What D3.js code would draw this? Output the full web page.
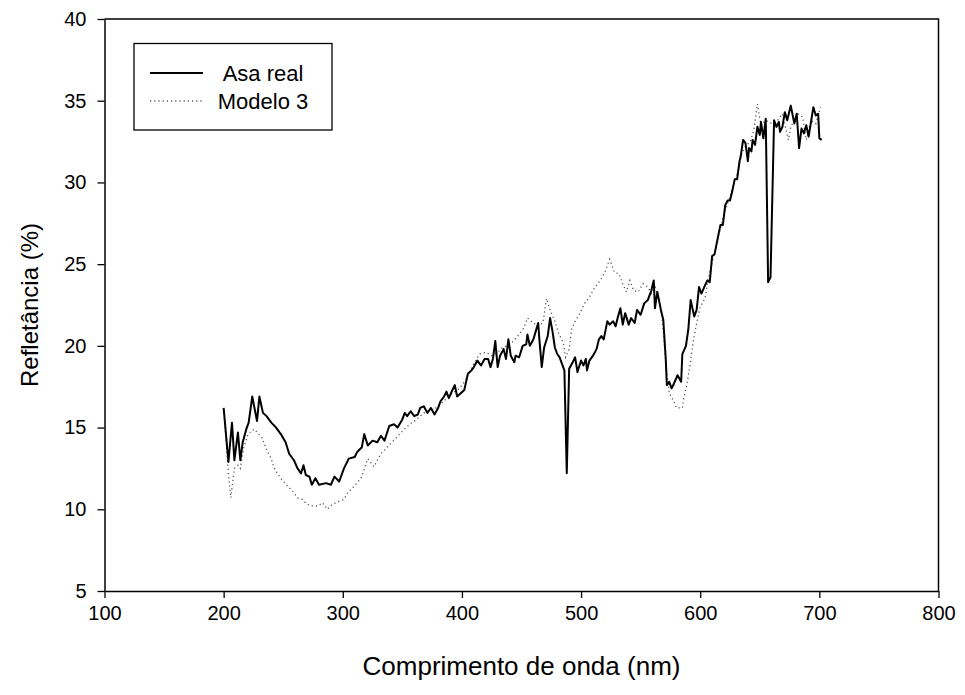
<!DOCTYPE html>
<html>
<head>
<meta charset="utf-8">
<script src="https://cdn.jsdelivr.net/npm/d3@7"></script>
<style>
  body { margin: 0; background: #fff; }
  svg { font-family: Arial, "Liberation Sans", sans-serif; }
</style>
</head>
<body>
<div id="chart"></div>
<script>
// tick values
const xTicks = [100, 200, 300, 400, 500, 600, 700, 800];
const yTicks = [5, 10, 15, 20, 25, 30, 35, 40];

// legend labels
const seriesNames = ["Asa real", "Modelo 3"];

// Asa real: [wavelength nm, reflectance %]
const asaReal = [
  [200,16.2],[204,12.9],[207,15.3],[209,13.0],[212,14.7],[214,13.0],[216,14.1],[219,14.9],[221,15.3],
  [224,16.9],[228,15.4],[230,16.9],[233,15.9],[236,15.7],[240,15.3],[244,15.0],[248,14.6],[252,14.1],
  [255,13.4],[259,13.0],[262,12.5],[265,12.2],[267,12.7],[269,12.1],[272,12.0],[274,11.5],[277,11.9],
  [280,11.5],[286,11.6],[290,11.5],[293,12.0],[297,11.7],[301,12.5],[305,13.1],[310,13.2],[312,13.5],
  [316,13.8],[318,14.6],[321,13.9],[325,14.2],[329,14.1],[332,14.5],[335,14.2],[339,15.1],[343,15.2],
  [346,15.0],[350,15.5],[352,15.9],[354,15.7],[357,16.0],[360,15.7],[363,15.8],[365,16.2],[368,16.3],
  [371,15.9],[374,16.2],[377,15.8],[380,16.2],[382,16.6],[385,16.9],[387,17.2],[389,16.8],[392,17.3],
  [394,17.6],[396,16.9],[399,17.1],[402,17.3],[405,18.3],[408,18.5],[410,18.7],[413,19.1],[416,18.8],
  [419,19.2],[422,19.2],[424,18.7],[426,19.2],[428,20.3],[430,18.7],[432,19.4],[435,19.8],[437,19.2],
  [439,20.4],[441,19.4],[444,19.0],[445,19.4],[448,19.3],[451,20.0],[454,20.1],[455,20.7],[457,20.0],
  [460,20.4],[462,20.9],[464,21.4],[465,20.4],[467,18.7],[469,19.9],[472,20.6],[474,21.7],[476,20.9],
  [478,19.9],[480,19.5],[482,19.3],[484,18.9],[486,18.5],[488,12.2],[490,18.6],[493,19.0],[495,19.3],
  [497,18.4],[500,19.1],[502,18.8],[504,19.2],[505,18.5],[507,19.1],[510,19.4],[513,19.8],[515,20.4],
  [517,20.6],[519,20.4],[522,21.5],[524,21.3],[527,21.5],[529,21.2],[531,21.8],[533,22.3],[535,21.3],
  [537,22.0],[540,21.3],[542,21.7],[545,21.4],[547,22.2],[550,21.9],[553,22.6],[556,22.8],[559,23.4],
  [561,24.0],[562,22.3],[564,23.3],[567,22.2],[569,21.6],[571,19.3],[572,17.6],[574,17.8],[576,17.4],
  [578,17.7],[581,18.2],[584,17.8],[585,19.5],[588,20.0],[590,21.0],[592,22.8],[595,21.8],[597,22.2],
  [599,23.6],[601,23.2],[604,23.7],[606,24.0],[608,23.9],[610,25.5],[612,25.6],[615,26.7],[617,27.4],
  [619,27.4],[621,28.6],[623,28.9],[625,28.9],[627,29.5],[629,30.2],[631,30.2],[633,31.3],[634,31.6],
  [636,32.6],[638,32.4],[640,31.3],[641,32.1],[643,31.9],[644,32.6],[646,32.3],[648,33.4],[650,32.9],
  [651,33.7],[653,32.7],[655,33.9],[657,23.9],[659,24.2],[662,33.8],[664,33.4],[666,33.7],[667,33.1],
  [669,33.4],[671,34.3],[673,33.8],[676,34.7],[679,33.6],[681,34.2],[683,32.1],[685,33.3],[687,33.0],
  [689,33.5],[691,32.8],[693,33.7],[695,34.6],[697,34.1],[699,34.2],[700,32.7],[702,32.6]
];

// Modelo 3: [wavelength nm, reflectance %]
const modelo3 = [
  [201,15.3],[204,12.2],[206,10.7],[209,12.5],[212,12.7],[214,12.5],[217,13.8],[220,14.5],[223,14.8],
  [226,14.9],[228,14.7],[232,14.4],[237,13.5],[240,13.1],[242,12.6],[245,12.2],[249,11.8],[254,11.4],
  [258,11.1],[262,10.7],[266,10.6],[270,10.3],[275,10.2],[279,10.2],[283,10.4],[287,10.0],[291,10.3],
  [297,10.5],[301,10.6],[304,11.0],[308,11.3],[312,11.6],[316,12.0],[319,12.7],[321,13.1],[326,12.6],
  [332,13.4],[340,14.0],[349,14.7],[356,15.2],[362,15.5],[368,15.9],[374,16.0],[380,16.3],[386,16.7],
  [392,17.1],[398,17.4],[404,18.0],[410,18.9],[415,19.5],[420,19.6],[425,19.4],[430,19.6],[434,19.9],
  [438,20.0],[442,20.2],[448,20.7],[452,21.1],[455,21.7],[460,21.4],[464,21.2],[468,21.4],[471,22.9],
  [474,22.2],[478,21.5],[481,20.8],[485,20.2],[487,19.3],[490,19.8],[492,21.0],[495,21.5],[499,22.0],
  [503,22.6],[507,23.0],[511,23.5],[516,24.0],[520,24.5],[524,25.3],[528,24.5],[532,24.4],[535,23.8],
  [538,23.3],[541,24.0],[544,23.4],[548,23.3],[552,23.8],[556,23.6],[559,23.2],[562,23.6],[565,23.0],
  [568,21.8],[571,19.0],[574,17.1],[578,16.6],[580,16.2],[585,16.2],[586,16.7],[589,17.7],[592,19.1],
  [594,20.2],[597,21.4],[600,22.4],[604,22.9],[607,24.2],[611,25.4],[615,26.6],[619,27.8],[623,28.7],
  [627,29.6],[631,30.5],[635,31.8],[638,32.2],[642,32.5],[645,33.2],[648,34.8],[651,33.5],[655,33.8],
  [660,33.6],[665,33.8],[669,34.2],[674,32.6],[676,33.4],[682,34.2],[686,34.0],[689,32.6],[693,33.8],
  [697,33.6],[701,34.6]
];

const width = 965;
const height = 695;
const plot = { left: 104.5, right: 938.5, top: 19, bottom: 591 };

const svg = d3.select("#chart").append("svg")
    .attr("width", width)
    .attr("height", height);

// scales
const x = d3.scaleLinear().domain([100, 800]).range([plot.left, plot.right]);
const y = d3.scaleLinear().domain([5, 40]).range([plot.bottom, plot.top]);

const line = d3.line()
    .x(d => x(d[0]))
    .y(d => y(d[1]));

// data lines (dotted first so solid sits on top)
svg.append("path")
    .datum(modelo3)
    .attr("fill", "none")
    .attr("stroke", "#555")
    .attr("stroke-width", 1.3)
    .attr("stroke-dasharray", "1.2,3")
    .attr("d", line);

svg.append("path")
    .datum(asaReal)
    .attr("fill", "none")
    .attr("stroke", "#000")
    .attr("stroke-width", 2)
    .attr("stroke-linejoin", "round")
    .attr("d", line);

// frame: top and right borders
svg.append("path")
    .attr("fill", "none")
    .attr("stroke", "#000")
    .attr("stroke-width", 1.5)
    .attr("d", `M${plot.left},${plot.top}H${plot.right}V${plot.bottom}`);

// axes
const xAxis = svg.append("g")
    .attr("transform", `translate(0,${plot.bottom})`)
    .call(d3.axisBottom(x).tickValues(xTicks).tickSize(7).tickPadding(8).tickSizeOuter(0));

const yAxis = svg.append("g")
    .attr("transform", `translate(${plot.left},0)`)
    .call(d3.axisLeft(y).tickValues(yTicks).tickSize(7).tickPadding(11).tickSizeOuter(0));

[xAxis, yAxis].forEach(a => {
    a.select(".domain").attr("stroke", "#000").attr("stroke-width", 1.5);
    a.selectAll(".tick line").attr("stroke", "#000").attr("stroke-width", 1.3);
    a.selectAll(".tick text")
        .attr("fill", "#000")
        .attr("font-size", 20)
        .attr("font-family", "Arial, 'Liberation Sans', sans-serif");
});

// axis titles
svg.append("text")
    .attr("x", (plot.left + plot.right) / 2)
    .attr("y", 675)
    .attr("text-anchor", "middle")
    .attr("font-size", 26)
    .text("Comprimento de onda (nm)");

svg.append("text")
    .attr("transform", `translate(38,${(plot.top + plot.bottom) / 2}) rotate(-90)`)
    .attr("text-anchor", "middle")
    .attr("font-size", 24)
    .text("Refletância (%)");

// legend
const legend = svg.append("g");
legend.append("rect")
    .attr("x", 134).attr("y", 43.5)
    .attr("width", 198).attr("height", 86.5)
    .attr("fill", "#fff")
    .attr("stroke", "#000")
    .attr("stroke-width", 1.3);

const legendRows = [
    { name: seriesNames[0], y: 73, dash: null, color: "#000", w: 2 },
    { name: seriesNames[1], y: 101, dash: "1.2,3", color: "#555", w: 1.3 }
];
legendRows.forEach(r => {
    legend.append("line")
        .attr("x1", 150).attr("x2", 203)
        .attr("y1", r.y).attr("y2", r.y)
        .attr("stroke", r.color)
        .attr("stroke-width", r.w)
        .attr("stroke-dasharray", r.dash);
    legend.append("text")
        .attr("x", 263).attr("y", r.y + 8)
        .attr("text-anchor", "middle")
        .attr("font-size", 22)
        .text(r.name);
});
</script>
</body>
</html>
